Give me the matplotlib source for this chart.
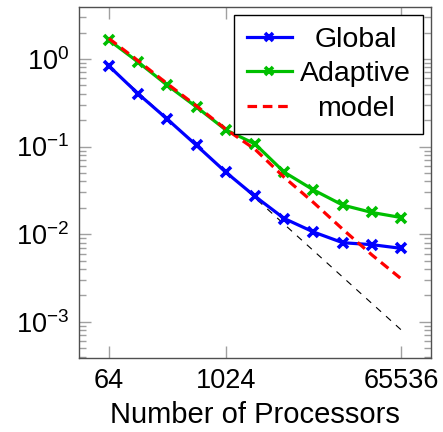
import matplotlib
matplotlib.use('Agg')
import matplotlib.pyplot as plt
from matplotlib.ticker import FixedLocator, LogLocator, NullFormatter, NullLocator, FixedFormatter

plt.rcParams['font.family'] = ['Liberation Sans', 'DejaVu Sans']
plt.rcParams['mathtext.fontset'] = 'custom'
plt.rcParams['mathtext.rm'] = 'Liberation Sans'
plt.rcParams['mathtext.it'] = 'Liberation Sans:italic'
plt.rcParams['mathtext.bf'] = 'Liberation Sans:bold'
plt.rcParams['mathtext.default'] = 'regular'

# ---- data ----
procs = [64, 128, 256, 512, 1024, 2048, 4096, 8192, 16384, 32768, 65536]
global_t = [0.83, 0.40, 0.205, 0.103, 0.051, 0.027, 0.0151, 0.0106, 0.0080, 0.0076, 0.0069]
adaptive_t = [1.64, 0.92, 0.50, 0.282, 0.155, 0.107, 0.051, 0.032, 0.0215, 0.0177, 0.0155]
model_t = [1.71, 0.95, 0.52, 0.29, 0.158, 0.093, 0.0445, 0.023, 0.0114, 0.0058, 0.0031]
ideal_procs = [64, 65536]
ideal_t = [0.83, 0.00081]
xtick_vals = [64, 1024, 65536]
xtick_labels = ['64', '1024', '65536']
series_labels = ['Global', 'Adaptive', 'model']

W, H = 443, 432
fig = plt.figure(figsize=(W / 100, H / 100), dpi=100)
ax = fig.add_axes([79.3 / W, 1 - 358 / H, (431 - 79.3) / W, (358 - 7.3) / H])

blue = (0, 0, 1)
green = (0, 0.75, 0)
red = (1, 0, 0)

ax.plot(ideal_procs, ideal_t, color='black', lw=0.8, ls=(0, (6, 6)), zorder=2)
lg, = ax.plot(procs, global_t, color=blue, lw=2.3, marker='x', ms=7.5, mew=2.6, zorder=3,
              label=series_labels[0])
la, = ax.plot(procs, adaptive_t, color=green, lw=2.3, marker='x', ms=7.5, mew=2.6, zorder=3,
              label=series_labels[1])
lm, = ax.plot(procs, model_t, color=red, lw=2.3, ls=(0, (3.0, 1.8)), zorder=4,
              label=series_labels[2])

ax.set_xscale('log', base=2)
ax.set_yscale('log')
ax.set_xlim(31.7, 133000)
ax.set_ylim(3.87e-4, 3.88)

ax.xaxis.set_major_locator(FixedLocator(xtick_vals))
ax.xaxis.set_major_formatter(FixedFormatter(xtick_labels))
ax.xaxis.set_minor_locator(NullLocator())
ax.yaxis.set_major_locator(LogLocator(base=10, numticks=20))
ax.yaxis.set_minor_locator(LogLocator(base=10, subs=range(2, 10), numticks=20))
ax.yaxis.set_minor_formatter(NullFormatter())

tick_col = '#a0a0a0'
ax.tick_params(which='both', direction='in', top=True, right=True, color=tick_col,
               width=1.0, labelsize=19.5, pad=7)
ax.tick_params(which='major', length=8.4)
ax.tick_params(which='minor', length=5)
for s in ax.spines.values():
    s.set_color('#505050')
    s.set_linewidth(1.0)

ax.set_xlabel('Number of Processors', fontsize=21, labelpad=5)

leg = ax.legend(handles=[lg, la, lm], loc='upper right', bbox_to_anchor=(0.978, 0.979),
                borderaxespad=0, fontsize=20.5, frameon=True, fancybox=False,
                edgecolor='black', framealpha=1, handlelength=1.58, handletextpad=0.3,
                labelspacing=0.3, borderpad=0.43, numpoints=1, markerscale=0.7)
leg.get_frame().set_linewidth(1.0)

# center legend labels within their column
fig.canvas.draw()
texts = leg.get_texts()
widths = [t.get_window_extent().width for t in texts]
wmax = max(widths)
for t, w in zip(texts, widths):
    t.set_x((wmax - w) / 2)

fig.savefig('out.png', dpi=100)
